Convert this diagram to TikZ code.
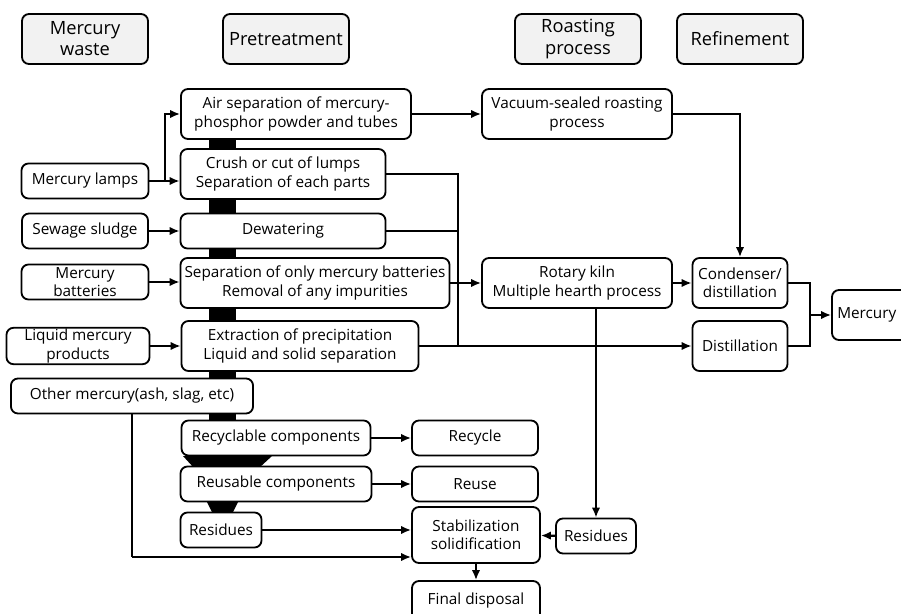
\documentclass[tikz,border=0pt]{standalone}
\usepackage{fontspec}
\setmainfont{Open Sans}
\usepackage{tikz}
\usetikzlibrary{arrows.meta}
\definecolor{headgray}{HTML}{F2F2F2}
\tikzset{
  head/.style={rectangle, draw, line width=1.3pt, rounded corners=5pt, fill=headgray, align=center, minimum width=3.15cm, minimum height=1.25cm, inner sep=1pt, font=\fontsize{13}{15}\selectfont},
  box/.style={rectangle, draw, line width=1.3pt, rounded corners=5pt, fill=white, align=center, minimum height=0.875cm, inner sep=1pt, font=\fontsize{10.9}{13}\selectfont},
  tallbox/.style={box, minimum height=1.25cm},
  line/.style={-{Latex[length=7pt,width=6pt]}, line width=1.6pt},
  seg/.style={line width=1.6pt}
}
\begin{document}
\begin{tikzpicture}[x=0.025cm, y=-0.025cm]
  \useasboundingbox (0,0) rectangle (901,613);
  % black flow bars behind the pretreatment boxes
  \fill (209,139) rectangle (236,421);
  \fill (183,456) -- (272,456) -- (259,468) -- (194,468) -- cycle;
  \fill (207,502) -- (238,502) -- (233,512) -- (212,512) -- cycle;

  % column heads
  \node[head] (waste) at (85,39) {Mercury\\waste};
  \node[head] (pre) at (286,39) {Pretreatment};
  \node[head] (roast) at (578,39) {Roasting\\process};
  \node[head] (refine) at (740,39) {Refinement};

  % mercury waste
  \node[box, minimum width=3.175cm] (lamps) at (85,181) {Mercury lamps};
  \node[box, minimum width=3.15cm] (sludge) at (85,231) {Sewage sludge};
  \node[box, minimum width=3.175cm] (batt) at (85,282) {Mercury\\batteries};
  \node[box, minimum width=3.575cm] (liquid) at (78,346) {Liquid mercury\\products};
  \node[box, minimum width=6.05cm] (other) at (132,396) {Other mercury(ash, slag, etc)};

  % pretreatment
  \node[tallbox, minimum width=5.75cm] (airsep) at (296,114) {Air separation of mercury-\\phosphor powder and tubes};
  \node[tallbox, minimum width=5.125cm] (crush) at (283,174) {Crush or cut of lumps\\Separation of each parts};
  \node[box, minimum width=5.125cm] (dewat) at (283,231) {Dewatering};
  \node[tallbox, minimum width=6.725cm] (sepbatt) at (315,283) {Separation of only mercury batteries\\Removal of any impurities};
  \node[tallbox, minimum width=5.925cm] (extract) at (300,346) {Extraction of precipitation\\Liquid and solid separation};
  \node[box, minimum width=4.725cm] (recyc) at (276,438) {Recyclable components};
  \node[box, minimum width=4.775cm] (reus) at (276,484) {Reusable components};
  \node[box, minimum width=2.025cm] (resL) at (221,530) {Residues};
  \node[box, minimum width=3.15cm] (recycle) at (475,438) {Recycle};
  \node[box, minimum width=3.15cm] (reuse) at (475,484) {Reuse};
  \node[box, minimum width=3.2cm, minimum height=1.4cm] (stab) at (476,535) {Stabilization\\solidification};
  \node[box, minimum width=3.2cm, minimum height=1cm] (final) at (476,601) {Final disposal};

  % roasting process
  \node[tallbox, minimum width=4.75cm] (vacuum) at (577,114) {Vacuum-sealed roasting\\process};
  \node[tallbox, minimum width=4.75cm] (kiln) at (577,283) {Rotary kiln\\Multiple hearth process};
  \node[box, minimum width=2cm] (resR) at (596,536) {Residues};

  % refinement
  \node[tallbox, minimum width=2.375cm] (cond) at (740,283) {Condenser/\\distillation};
  \node[tallbox, minimum width=2.375cm] (dist) at (740,346) {Distillation};
  \node[tallbox, minimum width=1.95cm] (merc) at (871,315) {\hspace*{-6pt}Mercury};

  \coordinate (lampsplit) at (165,181);
  \coordinate (pregather) at (458,346);
  \coordinate (refjoin) at (810,315);
  \coordinate (otherturn) at (132,557);

  \draw[seg] (lamps.east) -- (lampsplit);
  \draw[line] (lampsplit) |- (airsep.west);
  \draw[line] (lampsplit) -- (crush.west |- lampsplit);
  \draw[line] (sludge) -- (dewat);
  \draw[line] (batt.east) -- (sepbatt.west |- batt.east);
  \draw[line] (liquid) -- (extract);
  \draw[line] (airsep) -- (vacuum);
  \draw[seg] (crush.east) -| (pregather);
  \draw[seg] (dewat.east) -- (dewat.east -| pregather);
  \draw[line] (extract.east) -- (dist.west);
  \draw[line] (sepbatt.east) -- (kiln.west |- sepbatt.east);
  \draw[line] (vacuum.east) -| (cond.north);
  \draw[line] (kiln) -- (cond);
  \draw[line] (kiln.south -| resR.north) -- (resR.north);
  \draw[seg] (cond.east) -| (refjoin);
  \draw[seg] (dist.east) -| (refjoin);
  \draw[line] (refjoin) -- (merc.west);
  \draw[line] (recyc) -- (recycle);
  \draw[line] (reus) -- (reuse);
  \draw[line] (resL.east) -- (stab.west |- resL.east);
  \draw[seg] (other.south) -- (otherturn);
  \draw[line] (otherturn) -- (stab.west |- otherturn);
  \draw[line] (resR) -- (stab);
  \draw[line] (stab) -- (final);
\end{tikzpicture}
\end{document}
